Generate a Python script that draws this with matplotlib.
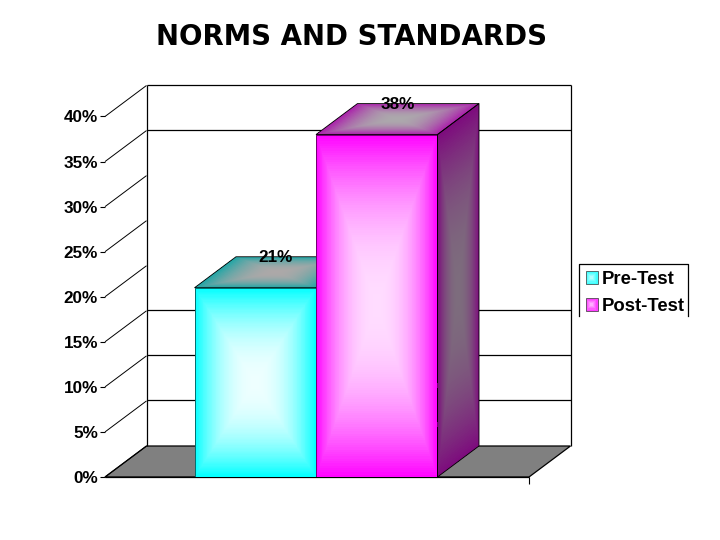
import numpy as np
import matplotlib
matplotlib.use("Agg")
import matplotlib.pyplot as plt
from matplotlib.patches import Polygon, Rectangle
from matplotlib.lines import Line2D
from matplotlib.legend_handler import HandlerPatch

plt.rcParams['font.family'] = ['Liberation Sans', 'DejaVu Sans']

# Values
series_names = ["Pre-Test", "Post-Test"]
series_values = [21, 38]
value_labels = ["21%", "38%"]
y_ticks = [0, 5, 10, 15, 20, 25, 30, 35, 40]
y_tick_labels = ["0%", "5%", "10%", "15%", "20%", "25%", "30%", "35%", "40%"]
# the back wall only shows these grid lines in the reference
wall_lines = [5, 10, 15, 35, 40]

# Pixel layout of the front plane
W, H = 720, 540
left, right, y0, y40 = 105, 529, 477, 116.5
bar_w = 121.5 / (right - left)
dx = 41.5 / (right - left)            # depth of the fake 3D box, axes x units
dy = 31 / ((y0 - y40) / 40)           # depth in percent units

fig = plt.figure(figsize=(7.2, 5.4), dpi=100, facecolor="white")
ax = fig.add_axes([left / W, (H - y0) / H, (right - left) / W, (y0 - y40) / H])
ax.set_xlim(0, 1)
ax.set_ylim(0, 40)
for s in ax.spines.values():
    s.set_visible(False)
ax.patch.set_visible(False)
ax.set_xticks([])
ax.set_yticks(y_ticks)
ax.set_yticklabels(y_tick_labels, fontsize=12.3, fontweight="bold")
ax.tick_params(axis="y", length=3.6, width=0.8, pad=1.5)


def line(xs, ys, lw=0.9, z=1):
    ax.plot(xs, ys, color="black", lw=lw, zorder=z, clip_on=False, solid_capstyle="butt")


def face(corners, outer, inner, power=2.2, z=3, edge=0.6):
    # corners: bottom-left, bottom-right, top-right, top-left
    n = 150
    u, v = np.meshgrid(np.linspace(0, 1, n + 1), np.linspace(0, 1, n + 1))
    c = np.array(corners, dtype=float)
    X = (1-u)*(1-v)*c[0, 0] + u*(1-v)*c[1, 0] + u*v*c[2, 0] + (1-u)*v*c[3, 0]
    Y = (1-u)*(1-v)*c[0, 1] + u*(1-v)*c[1, 1] + u*v*c[2, 1] + (1-u)*v*c[3, 1]
    cu = (np.arange(n) + .5) / n * 2 - 1
    a, b = np.meshgrid(cu, cu)
    t = 1 - np.maximum(np.abs(a), np.abs(b)) ** power
    rgb = np.array(outer)[None, None, :] * (1 - t[..., None]) + np.array(inner)[None, None, :] * t[..., None]
    ax.pcolormesh(X, Y, np.clip(rgb / 255.0, 0, 1), zorder=z, clip_on=False)
    ax.add_patch(Polygon(c, closed=True, fill=False, ec="black", lw=edge, zorder=z + 0.1, clip_on=False))


# back wall and floor
ax.add_patch(Polygon([(0, 0), (dx, dy), (1 + dx, dy), (1, 0)], closed=True, fc="#808080", ec="black", lw=0.9, zorder=0.5, clip_on=False))
line([dx, dx], [dy, 40 + dy])
line([1 + dx, 1 + dx], [dy, 40 + dy])
for v in y_ticks:
    line([0, dx], [v, v + dy], lw=0.7)
for v in wall_lines:
    line([dx, 1 + dx], [v + dy + 0.08, v + dy + 0.08])
line([0, 1], [0, 0], z=2)
line([1, 1], [0, -7 / ((y0 - y40) / 40)], lw=0.8)

# bars
mid = 0.5 - 1 / (right - left)
xs = [mid - bar_w / 2, mid + bar_w / 2]
bars = ax.bar(xs, series_values, width=bar_w, color=["#00FFFF", "#FF00FF"], zorder=1.5)
styles = [
    dict(front=((0, 255, 255), (238, 255, 255)), top=((30, 165, 165), (172, 168, 168))),
    dict(front=((255, 0, 255), (255, 220, 255)), top=((170, 30, 170), (172, 168, 172))),
]
for bar, st in zip(bars, styles):
    x0, x1, h = bar.get_x(), bar.get_x() + bar.get_width(), bar.get_height()
    z = 3 if st is styles[0] else 4
    face([(x0, h), (x1, h), (x1 + dx, h + dy), (x0 + dx, h + dy)], *st["top"], z=z)
    face([(x1, 0), (x1 + dx, dy), (x1 + dx, h + dy), (x1, h)], (125, 10, 125), (125, 108, 125), z=z)
    face([(x0, 0), (x1, 0), (x1, h), (x0, h)], *st["front"], z=z + 0.3, edge=0.4)

# value labels sit on the top faces
for x, v, label in zip(xs, series_values, value_labels):
    ax.text(x + dx * 0.5, v + 3.3, label, ha="center", va="center", fontsize=12.3, fontweight="bold", zorder=6, clip_on=False)

fig.text(351.5 / W, 1 - 36.5 / H, "NORMS AND STANDARDS", ha="center", va="center", fontsize=19.9, fontweight="bold", family="DejaVu Sans")


class SoftSquare(HandlerPatch):
    def create_artists(self, legend, orig, xd, yd, width, height, fontsize, trans):
        out = []
        outer = np.array(orig.get_facecolor()[:3])
        for k in range(5):
            f = k / 5
            col = outer * (1 - 0.25 - f * 0.55) + 0.25 + f * 0.55
            out.append(Rectangle((-xd + f * width / 2, -yd + f * height / 2), width * (1 - f), height * (1 - f),
                                 fc=col, ec="#333333" if k == 0 else "none", lw=0.5, transform=trans))
        return out


handles = [Rectangle((0, 0), 1, 1, fc="#00FFFF"), Rectangle((0, 0), 1, 1, fc="#FF00FF")]
leg = fig.legend(handles, series_names, loc="upper left", bbox_to_anchor=(581 / W, 1 - 266.5 / H), bbox_transform=fig.transFigure,
                 frameon=False, handlelength=0.65, handleheight=0.65, handletextpad=0.22,
                 labelspacing=0.54, borderpad=0.25, borderaxespad=0,
                 handler_map={Rectangle: SoftSquare()}, prop=dict(weight="bold", size=13.3))

# legend box has no bottom edge in the reference
bx = [579 / W, 579 / W, 687.5 / W, 687.5 / W]
by = [1 - 316 / H, 1 - 263.5 / H, 1 - 263.5 / H, 1 - 316 / H]
fig.add_artist(Line2D(bx, by, color="black", lw=0.9, transform=fig.transFigure))

fig.savefig("out.png", dpi=100, facecolor="white")
